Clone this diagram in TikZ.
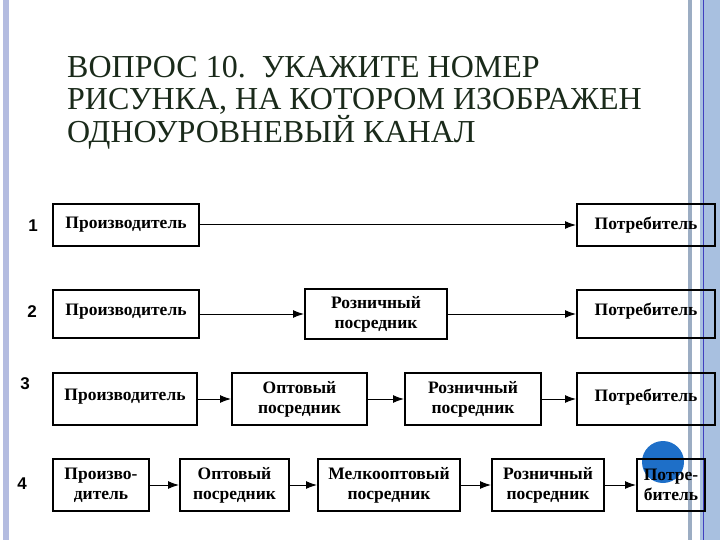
\documentclass[tikz,border=0pt]{standalone}
\usepackage{fontspec}
\setmainfont{Liberation Serif}
\newfontfamily\numfont{Liberation Sans}
\usetikzlibrary{arrows.meta}
\definecolor{stripeL}{HTML}{B4BCE0}
\definecolor{stripeR}{HTML}{A8C0E0}
\definecolor{titlec}{HTML}{1A2A1A}
\definecolor{dotc}{HTML}{1E6FC8}
\begin{document}
\begin{tikzpicture}[x=1pt,y=-1pt,
  box/.style={draw,line width=2pt,inner sep=0pt,align=center,anchor=north west,font=\bfseries\fontsize{17.5}{20}\selectfont},
  arr/.style={-{Latex[length=11pt,width=8pt]},line width=1pt},
  num/.style={font=\numfont\bfseries\fontsize{17}{17}\selectfont}]
\useasboundingbox (0,0) rectangle (720,540);
\fill[stripeL] (3,0) rectangle (9,540);
\fill[stripeR!70!gray] (688,0) rectangle (692,540);
\fill[stripeR] (700,0) rectangle (720,540);
\draw[blue!50!gray,line width=0.8pt] (703,0) -- (703,540);
\node[anchor=north west,align=left,text=titlec,font=\fontsize{32}{32}\selectfont,inner sep=0pt] (title) at (67,56)
 {ВОПРОС 10.\ \ УКАЖИТЕ НОМЕР\\РИСУНКА, НА КОТОРОМ ИЗОБРАЖЕН\\ОДНОУРОВНЕВЫЙ КАНАЛ};
% row 1
\node[num] (n1) at (33,226) {1};
\node[box,minimum width=146pt,minimum height=42pt] (p1) at (52,203) {Производитель};
\node[box,minimum width=138pt,minimum height=42pt] (c1) at (576,203) {Потребитель};
\draw[arr] (p1.east) -- (c1.west);
% row 2
\node[num] (n2) at (32,312) {2};
\node[box,minimum width=146pt,minimum height=48pt,text depth=9pt] (p2) at (52,289) {Производитель};
\node[box,minimum width=142pt,minimum height=50pt] (r2) at (304,288) {Розничный\\посредник};
\node[box,minimum width=138pt,minimum height=48pt,text depth=9pt] (c2) at (576,289) {Потребитель};
\draw[arr] (p2.east) -- (r2.west);
\draw[arr] (r2.east) -- (c2.west);
% row 3
\node[num] (n3) at (25,384) {3};
\node[box,minimum width=144pt,minimum height=52pt,text depth=8pt] (p3) at (52,372) {Производитель};
\node[box,minimum width=135pt,minimum height=52pt] (o3) at (231,372) {Оптовый\\посредник};
\node[box,minimum width=136pt,minimum height=52pt] (r3) at (404,372) {Розничный\\посредник};
\node[box,minimum width=138pt,minimum height=52pt,text depth=8pt] (c3) at (576,372) {Потребитель};
\draw[arr] (p3.east) -- (o3.west);
\draw[arr] (o3.east) -- (r3.west);
\draw[arr] (r3.east) -- (c3.west);
% row 4
\node[num] (n4) at (22,484) {4};
\node[box,minimum width=96pt,minimum height=52pt] (p4) at (52,458) {Произво-\\дитель};
\node[box,minimum width=109pt,minimum height=52pt] (o4) at (179,458) {Оптовый\\посредник};
\node[box,minimum width=142pt,minimum height=52pt] (m4) at (317,458) {Мелкооптовый\\посредник};
\node[box,minimum width=112pt,minimum height=52pt] (r4) at (491,458) {Розничный\\посредник};
\fill[dotc] (663,462) circle (21);
\node[box,minimum width=68pt,minimum height=52pt] (c4) at (636,458) {Потре-\\битель};
\draw[arr] (p4.east) -- (o4.west);
\draw[arr] (o4.east) -- (m4.west);
\draw[arr] (m4.east) -- (r4.west);
\draw[arr] (r4.east) -- (c4.west);
\end{tikzpicture}
\end{document}
